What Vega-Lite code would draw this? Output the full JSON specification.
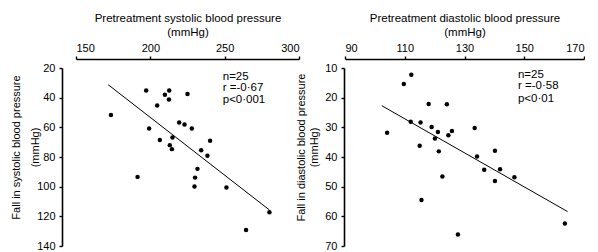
{
  "$schema": "https://vega.github.io/schema/vega-lite/v6.json",
  "config": {
    "font": "Liberation Sans",
    "view": {"stroke": null},
    "axis": {
      "grid": false,
      "domainColor": "black",
      "domainWidth": 1.6,
      "tickColor": "black",
      "tickWidth": 1.4,
      "tickSize": 3,
      "labelColor": "black",
      "titleColor": "black",
      "labelFontSize": 11,
      "titleFontSize": 11.5,
      "titleFontWeight": "normal",
      "labelPadding": 4,
      "labelOverlap": false
    }
  },
  "padding": {"left": 10, "top": 12, "right": 0, "bottom": 0},
  "bounds": "flush",
  "spacing": 46,
  "datasets": {
    "systolic": [
      {"x": 173.5, "y": 51.7}, {"x": 197.2, "y": 35.1}, {"x": 199.2, "y": 60.8}, {"x": 191.4, "y": 93.4},
      {"x": 204.6, "y": 45.3}, {"x": 206.4, "y": 68.6}, {"x": 209.8, "y": 38.0}, {"x": 212.7, "y": 35.1},
      {"x": 212.5, "y": 41.2}, {"x": 214.9, "y": 66.9}, {"x": 213.1, "y": 72.0}, {"x": 214.5, "y": 74.7},
      {"x": 219.4, "y": 56.7}, {"x": 223.0, "y": 58.1}, {"x": 225.0, "y": 37.6}, {"x": 227.9, "y": 60.8},
      {"x": 234.2, "y": 75.4}, {"x": 238.4, "y": 79.2}, {"x": 240.2, "y": 69.1}, {"x": 231.7, "y": 88.0},
      {"x": 230.1, "y": 93.9}, {"x": 229.7, "y": 99.9}, {"x": 251.2, "y": 100.6}, {"x": 280.1, "y": 117.2},
      {"x": 264.4, "y": 129.2}
    ],
    "diastolic": [
      {"x": 112.2, "y": 12.3}, {"x": 109.7, "y": 15.4}, {"x": 104.1, "y": 31.8}, {"x": 112.0, "y": 28.1},
      {"x": 115.3, "y": 28.4}, {"x": 118.0, "y": 22.1}, {"x": 124.1, "y": 22.2}, {"x": 115.0, "y": 36.2},
      {"x": 119.0, "y": 29.9}, {"x": 121.1, "y": 31.6}, {"x": 120.1, "y": 33.8}, {"x": 121.4, "y": 38.1},
      {"x": 124.6, "y": 32.7}, {"x": 125.8, "y": 31.2}, {"x": 122.6, "y": 46.6}, {"x": 115.6, "y": 54.5},
      {"x": 127.8, "y": 66.1}, {"x": 133.4, "y": 30.2}, {"x": 134.2, "y": 39.8}, {"x": 136.6, "y": 44.3},
      {"x": 140.2, "y": 37.9}, {"x": 141.9, "y": 44.1}, {"x": 140.2, "y": 48.1}, {"x": 146.7, "y": 46.8},
      {"x": 163.6, "y": 62.4}
    ],
    "sysFit": [{"x": 171.7, "y": 31.3}, {"x": 280.1, "y": 115.7}],
    "diaFit": [{"x": 102.3, "y": 22.7}, {"x": 164.5, "y": 58.4}],
    "sysStats": [
      {"x": 248.7, "y": 25.9, "label": "n=25"},
      {"x": 248.7, "y": 33.3, "label": "r =-0·67"},
      {"x": 248.7, "y": 41.4, "label": "p<0·001"}
    ],
    "diaStats": [
      {"x": 147.9, "y": 12.3, "label": "n=25"},
      {"x": 147.9, "y": 16.1, "label": "r =-0·58"},
      {"x": 147.9, "y": 20.4, "label": "p<0·01"}
    ]
  },
  "hconcat": [
    {
      "width": 223,
      "height": 178,
      "layer": [
        {
          "data": {"name": "sysFit"},
          "mark": {"type": "line", "color": "black", "strokeWidth": 1},
          "encoding": {
            "x": {
              "field": "x", "type": "quantitative",
              "scale": {"domain": [150, 300], "nice": false, "zero": false},
              "axis": {"orient": "top", "title": ["Pretreatment systolic blood pressure", "(mmHg)"], "values": [150, 200, 250, 300], "offset": 9, "titlePadding": 5, "labelPadding": 3, "labelOverlap": false}
            },
            "y": {
              "field": "y", "type": "quantitative",
              "scale": {"domain": [20, 140], "reverse": true, "nice": false, "zero": false},
              "axis": {"title": ["Fall in systolic blood pressure", "(mmHg)"], "values": [20, 40, 60, 80, 100, 120, 140], "tickCount": 7, "labelOverlap": false, "offset": 14, "titleFontSize": 11, "titlePadding": -4, "titleLineHeight": 19, "titleY": 79}
            }
          }
        },
        {
          "data": {"name": "systolic"},
          "mark": {"type": "circle", "size": 20, "color": "black", "opacity": 1},
          "encoding": {
            "x": {"field": "x", "type": "quantitative"},
            "y": {"field": "y", "type": "quantitative"}
          }
        },
        {
          "data": {"name": "sysStats"},
          "mark": {"type": "text", "align": "left", "baseline": "middle", "fontSize": 11.5, "color": "black"},
          "encoding": {
            "x": {"field": "x", "type": "quantitative"},
            "y": {"field": "y", "type": "quantitative"},
            "text": {"field": "label"}
          }
        }
      ]
    },
    {
      "width": 239,
      "height": 178,
      "layer": [
        {
          "data": {"name": "diaFit"},
          "mark": {"type": "line", "color": "black", "strokeWidth": 1},
          "encoding": {
            "x": {
              "field": "x", "type": "quantitative",
              "scale": {"domain": [90, 170], "nice": false, "zero": false},
              "axis": {"orient": "top", "title": ["Pretreatment diastolic blood pressure", "(mmHg)"], "values": [90, 110, 130, 150, 170], "offset": 9, "titlePadding": 5, "labelPadding": 3, "labelOverlap": false}
            },
            "y": {
              "field": "y", "type": "quantitative",
              "scale": {"domain": [10, 70], "reverse": true, "nice": false, "zero": false},
              "axis": {"title": ["Fall in diastolic blood pressure", "(mmHg)"], "values": [10, 20, 30, 40, 50, 60, 70], "tickCount": 7, "labelOverlap": false, "offset": 1, "titleFontSize": 11, "titlePadding": 5, "titleLineHeight": 13, "titleY": 79}
            }
          }
        },
        {
          "data": {"name": "diastolic"},
          "mark": {"type": "circle", "size": 20, "color": "black", "opacity": 1},
          "encoding": {
            "x": {"field": "x", "type": "quantitative"},
            "y": {"field": "y", "type": "quantitative"}
          }
        },
        {
          "data": {"name": "diaStats"},
          "mark": {"type": "text", "align": "left", "baseline": "middle", "fontSize": 11.5, "color": "black"},
          "encoding": {
            "x": {"field": "x", "type": "quantitative"},
            "y": {"field": "y", "type": "quantitative"},
            "text": {"field": "label"}
          }
        }
      ]
    }
  ]
}
